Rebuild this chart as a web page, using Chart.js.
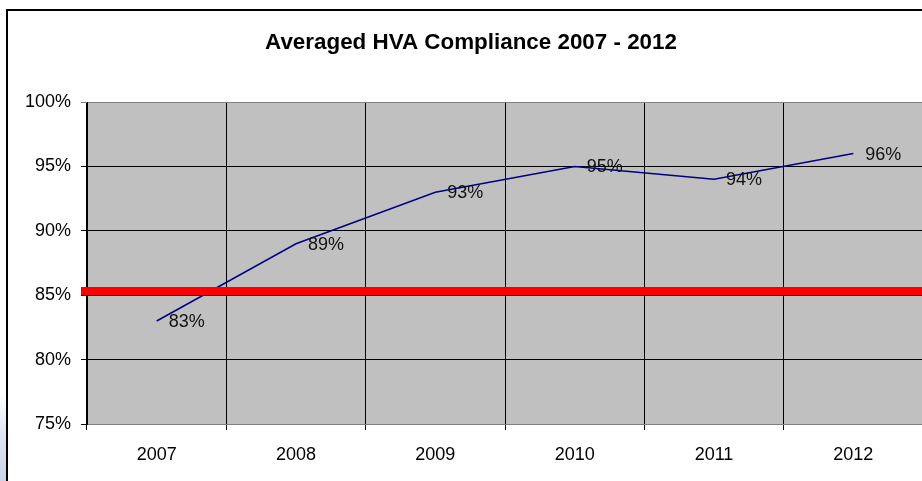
<!DOCTYPE html>
<html>
<head>
<meta charset="utf-8">
<script src="https://cdn.jsdelivr.net/npm/chart.js@4.4.1/dist/chart.umd.min.js"></script>
<style>
  html, body { margin: 0; padding: 0; width: 922px; height: 481px; overflow: hidden; background: #fff; }
  #glow { position: absolute; left: 0; top: 395px; width: 7px; height: 86px;
          background: linear-gradient(to bottom, rgba(255,255,255,1) 0%, #dde4f2 45%, #c9d3ea 100%); }
  #box { position: absolute; left: 6px; top: 9px; width: 940px; height: 500px;
         border-left: 2px solid #000; border-top: 2px solid #000; background: #fff; }
  #wrap { position: absolute; left: 0; top: 0; width: 926px; height: 470px; }
</style>
</head>
<body>
<div id="glow"></div>
<div id="box"><div id="wrap"><canvas id="c"></canvas></div></div>
<script>
const categories = ['2007', '2008', '2009', '2010', '2011', '2012'];
const compliance = [83, 89, 93, 95, 94, 96];
const targetLine = [85.33];
const yRange = [75, 100];
const yStep = 5;

const FONT = '"Liberation Sans", Arial, sans-serif';

const plotBg = {
  id: 'plotBg',
  beforeDraw(chart) {
    const a = chart.chartArea, c = chart.ctx;
    c.save();
    c.fillStyle = '#C0C0C0';
    c.fillRect(a.left, a.top, a.right - a.left, a.bottom - a.top);
    c.restore();
  }
};

const target = {
  id: 'target',
  afterDatasetsDraw(chart) {
    const a = chart.chartArea, c = chart.ctx;
    const y = chart.scales.y.getPixelForValue(targetLine[0]);
    c.save();
    c.strokeStyle = '#FF0000';
    c.lineWidth = 8;
    c.beginPath();
    c.moveTo(a.left - 6, y);
    c.lineTo(chart.width, y);
    c.stroke();
    c.restore();
  }
};

const labels = {
  id: 'labels',
  afterDraw(chart) {
    const c = chart.ctx;
    const meta = chart.getDatasetMeta(0);
    c.save();
    c.font = '18px ' + FONT;
    c.fillStyle = '#111';
    c.textAlign = 'left';
    c.textBaseline = 'middle';
    meta.data.forEach((pt, i) => {
      c.fillText(compliance[i] + '%', pt.x + 12, pt.y + 1);
    });
    c.restore();
  }
};

new Chart(document.getElementById('c'), {
  type: 'line',
  data: {
    labels: categories,
    datasets: [{
      data: compliance,
      borderColor: '#000080',
      borderWidth: 1.5,
      pointRadius: 0,
      tension: 0,
      fill: false
    }]
  },
  options: {
    responsive: true,
    maintainAspectRatio: false,
    animation: false,
    devicePixelRatio: 1,
    layout: { padding: { left: 11, right: 11, top: 0, bottom: 15 } },
    plugins: {
      legend: { display: false },
      tooltip: { enabled: false },
      title: {
        display: true,
        text: 'Averaged HVA Compliance 2007 - 2012',
        color: '#000',
        font: { family: FONT, size: 22.4, weight: 'bold' },
        padding: { top: 18, bottom: 46.2 }
      }
    },
    scales: {
      x: {
        offset: true,
        grid: { offset: true, color: '#000', lineWidth: 1, tickLength: 6, drawOnChartArea: true },
        border: { color: '#808080', width: 1 },
        ticks: { color: '#000', font: { family: FONT, size: 18 }, padding: 14, maxRotation: 0 },
        afterFit(s) { s.height = 42; }
      },
      y: {
        min: yRange[0],
        max: yRange[1],
        grid: {
          color: (ctx) => (ctx.tick && (ctx.tick.value === yRange[1]) ? '#808080' : '#000'),
          lineWidth: 1,
          tickLength: 6
        },
        border: { color: '#000', width: 1 },
        ticks: {
          stepSize: yStep,
          color: '#000',
          font: { family: FONT, size: 18 },
          padding: 10,
          callback: (v) => v + '%'
        },
        afterFit(s) { s.width = 68; }
      }
    }
  },
  plugins: [plotBg, target, labels]
});
</script>
</body>
</html>
